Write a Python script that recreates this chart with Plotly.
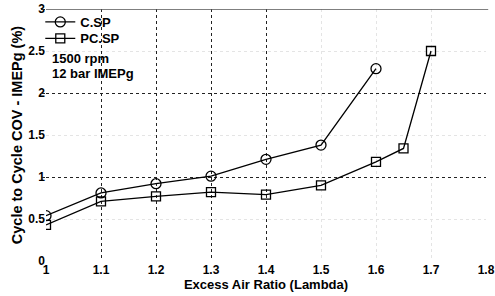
import plotly.graph_objects as go

lam_c = [1.0, 1.1, 1.2, 1.3, 1.4, 1.5, 1.6]
cov_c = [0.54, 0.81, 0.92, 1.01, 1.21, 1.38, 2.29]
lam_pc = [1.0, 1.1, 1.2, 1.3, 1.4, 1.5, 1.6, 1.65, 1.7]
cov_pc = [0.43, 0.71, 0.77, 0.82, 0.79, 0.90, 1.18, 1.34, 2.50]
x_ticks = [1, 1.1, 1.2, 1.3, 1.4, 1.5, 1.6, 1.7, 1.8]
y_ticks = [0, 0.5, 1, 1.5, 2, 2.5, 3]
x_dark_grid = [1.1, 1.2, 1.3, 1.4]
y_dark_grid = [1, 2, 3]

FONT = "Liberation Sans, Arial, sans-serif"

fig = go.Figure()
fig.add_trace(go.Scatter(x=lam_c, y=cov_c, mode="lines+markers", name="C.SP",
                         legend="legend",
                         line=dict(color="black", width=1.3),
                         marker=dict(symbol="circle-open", size=10, color="black",
                                     line=dict(width=1.3))))
fig.add_trace(go.Scatter(x=lam_pc, y=cov_pc, mode="lines+markers", name="PC.SP",
                         legend="legend2",
                         line=dict(color="black", width=1.3),
                         marker=dict(symbol="square-open", size=9, color="black",
                                     line=dict(width=1.3))))
# helper trace to attach overlay axes (invisible)
fig.add_trace(go.Scatter(x=[1], y=[0], xaxis="x2", yaxis="y2", mode="markers",
                         marker=dict(opacity=0), showlegend=False, hoverinfo="skip"))

fig.add_shape(type="line", xref="paper", yref="y", x0=0, x1=1.005, y0=3, y1=3,
              line=dict(color="#555", width=1.5))

fig.add_annotation(xref="paper", yref="paper", x=0.01, y=0.805, xanchor="left", yanchor="middle",
                   text="<b>1500 rpm</b>", showarrow=False, align="left",
                   font=dict(family=FONT, size=13, color="black"))
fig.add_annotation(xref="paper", yref="paper", x=0.01, y=0.745, xanchor="left", yanchor="middle",
                   text="<b>12 bar IMEPg</b>", showarrow=False, align="left",
                   font=dict(family=FONT, size=13, color="black"))

leg_common = dict(xanchor="left", yanchor="top", bgcolor="rgba(0,0,0,0)",
                  font=dict(family=FONT, size=13, weight="bold"), itemwidth=30)

fig.update_layout(
    width=495, height=296,
    margin=dict(l=46, r=9, t=9, b=35, autoexpand=False),
    plot_bgcolor="white", paper_bgcolor="white",
    font=dict(family=FONT, size=12, color="black"),
    showlegend=True,
    legend=dict(x=-0.013, y=1.008, **leg_common),
    legend2=dict(x=-0.013, y=0.943, **leg_common),
    xaxis=dict(range=[1, 1.8], tickvals=x_ticks, ticktext=[str(v) for v in x_ticks],
               showgrid=True, gridcolor="#e4e4e4", griddash="dot", gridwidth=1,
               zeroline=False, showline=False, ticks="", automargin=False,
               tickfont=dict(family=FONT, size=12, weight="bold"),
               title=dict(text="<b>Excess Air Ratio (Lambda)</b>", standoff=3,
                          font=dict(family=FONT, size=13))),
    yaxis=dict(range=[0, 3], tickvals=y_ticks, ticktext=[str(v) for v in y_ticks],
               showgrid=True, gridcolor="#e4e4e4", griddash="dot", gridwidth=1,
               zeroline=False, showline=False, ticks="", automargin=False,
               tickfont=dict(family=FONT, size=12, weight="bold"),
               title=dict(text="<b>Cycle to Cycle COV - IMEPg (%)</b>", standoff=2,
                          font=dict(family=FONT, size=14.5))),
    xaxis2=dict(overlaying="x", matches="x", tickvals=x_dark_grid, showticklabels=False,
                showgrid=True, gridcolor="#222", griddash="dot", gridwidth=1,
                zeroline=False, showline=False, ticks="", automargin=False),
    yaxis2=dict(overlaying="y", matches="y", tickvals=y_dark_grid, showticklabels=False,
                showgrid=True, gridcolor="#222", griddash="dot", gridwidth=1,
                zeroline=False, showline=False, ticks="outside", ticklen=4, tickcolor="#222",
                side="left", automargin=False),
)

fig.write_html("out.html", config={"displayModeBar": False},
               post_script="document.body.style.margin='0px';")
